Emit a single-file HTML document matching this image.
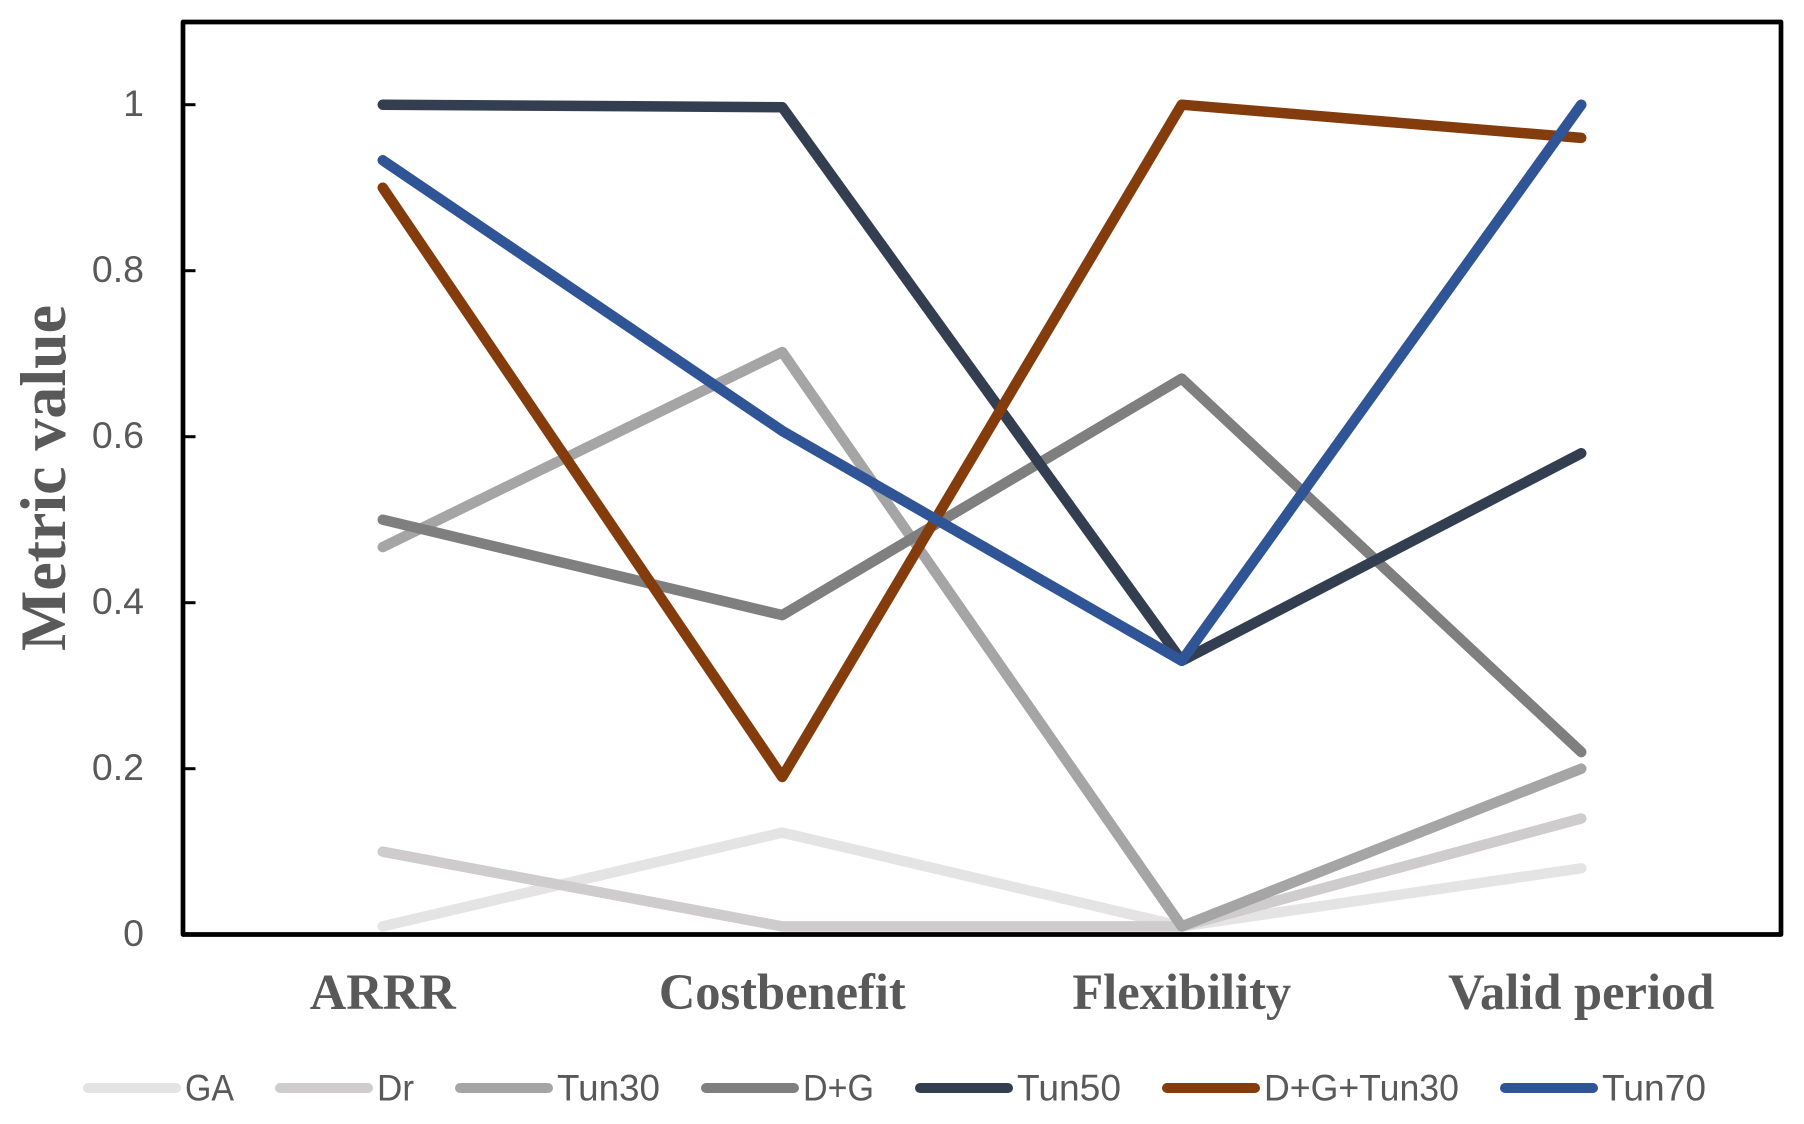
<!DOCTYPE html>
<html lang="en">
<head>
<meta charset="utf-8">
<title>Metric value by criterion</title>
<style>
  html, body { margin: 0; padding: 0; background: #ffffff; }
  svg { display: block; }
  .tick-text { font-family: "Liberation Sans", sans-serif; font-size: 37.5px; fill: #595959; }
  .cat-text { font-family: "Liberation Serif", serif; font-weight: bold; font-size: 50.5px; fill: #595959; }
  .title-text { font-family: "Liberation Serif", serif; font-weight: bold; font-size: 65px; fill: #595959; }
</style>
</head>
<body>
<svg id="chart" xmlns="http://www.w3.org/2000/svg" width="1804" height="1124" viewBox="0 0 1804 1124">
  <rect x="0" y="0" width="1804" height="1124" fill="#ffffff"></rect>
  <g id="lines"></g>
  <g id="yticks"></g>
  <g id="xticks"></g>
  <rect x="183" y="22" width="1598" height="912.5" fill="none" stroke="#000000" stroke-width="4.7" stroke-linejoin="round"></rect>
  <text class="title-text" transform="translate(65,478) rotate(-90)" text-anchor="middle" textLength="346" lengthAdjust="spacingAndGlyphs">Metric value</text>
  <g id="legend"></g>
</svg>
<script>
const categories = ["ARRR", "Costbenefit", "Flexibility", "Valid period"];
const yTickValues = [0, 0.2, 0.4, 0.6, 0.8, 1];
const yTickLabels = ["0", "0.2", "0.4", "0.6", "0.8", "1"];
const seriesNames = ["GA", "Dr", "Tun30", "D+G", "Tun50", "D+G+Tun30", "Tun70"];
const valuesGA = [0.01, 0.123, 0.01, 0.08];
const valuesDr = [0.1, 0.01, 0.01, 0.14];
const valuesTun30 = [0.467, 0.702, 0.01, 0.2];
const valuesDG = [0.5, 0.385, 0.67, 0.22];
const valuesTun50 = [1, 0.997, 0.33, 0.58];
const valuesDGTun30 = [0.9, 0.19, 1, 0.96];
const valuesTun70 = [0.933, 0.607, 0.33, 1];

const seriesValues = [valuesGA, valuesDr, valuesTun30, valuesDG, valuesTun50, valuesDGTun30, valuesTun70];
const seriesColors = ["#e4e4e4", "#cecccc", "#a5a5a5", "#7f7f7f", "#333f50", "#843c0c", "#2f5597"];

const NS = "http://www.w3.org/2000/svg";
const plotLeft = 183, plotRight = 1781, yZero = 934.7, yOne = 104.7;
function xScale(i) { return plotLeft + (plotRight - plotLeft) * (i + 0.5) / categories.length; }
function yScale(v) { return yZero + (yOne - yZero) * v; }
function make(tag, attrs, parent, text) {
  const el = document.createElementNS(NS, tag);
  for (const k in attrs) el.setAttribute(k, attrs[k]);
  if (text !== undefined) el.textContent = text;
  parent.appendChild(el);
  return el;
}
function slug(s) { return s.toLowerCase().replace(/[^a-z0-9]+/g, '-'); }

const linesGroup = document.getElementById('lines');
seriesValues.forEach(function (vals, s) {
  const pts = vals.map(function (v, i) { return xScale(i).toFixed(2) + ',' + yScale(v).toFixed(2); }).join(' ');
  const line = make('polyline', { points: pts, fill: 'none', stroke: seriesColors[s], 'stroke-width': 10.5, 'stroke-linecap': 'round', 'stroke-linejoin': 'round' }, linesGroup);
  
  
});

const yGroup = document.getElementById('yticks');
yTickValues.forEach(function (v, i) {
  const y = yScale(v);
  const mark = make('line', { x1: plotLeft, x2: 195.5, y1: y, y2: y, stroke: '#000000', 'stroke-width': 3 }, yGroup);
  
  
  const label = make('text', { x: 144, y: y + 11.5, 'text-anchor': 'end', 'class': 'tick-text' }, yGroup, yTickLabels[i]);
  
  
});

const xGroup = document.getElementById('xticks');
categories.forEach(function (c, i) {
  const label = make('text', { x: xScale(i), y: 1009, 'text-anchor': 'middle', 'class': 'cat-text' }, xGroup, c);
  
  
});

/* legend layout: flow from the left with fixed swatch size and gaps */
const legendGroup = document.getElementById('legend');
const legendLabelWidths = [49, 37, 103, 71, 104, 195, 104];
let legendX = 83;
seriesNames.forEach(function (name, s) {
  const swatch = make('line', { x1: legendX + 5, x2: legendX + 93, y1: 1088, y2: 1088, stroke: seriesColors[s], 'stroke-width': 10, 'stroke-linecap': 'round' }, legendGroup);
  
  
  const label = make('text', { x: legendX + 102, y: 1100.5, 'class': 'tick-text', textLength: legendLabelWidths[s], lengthAdjust: 'spacingAndGlyphs' }, legendGroup, name);
  
  
  legendX += 98 + 5 + legendLabelWidths[s] + 40;
});
</script>
</body>
</html>
